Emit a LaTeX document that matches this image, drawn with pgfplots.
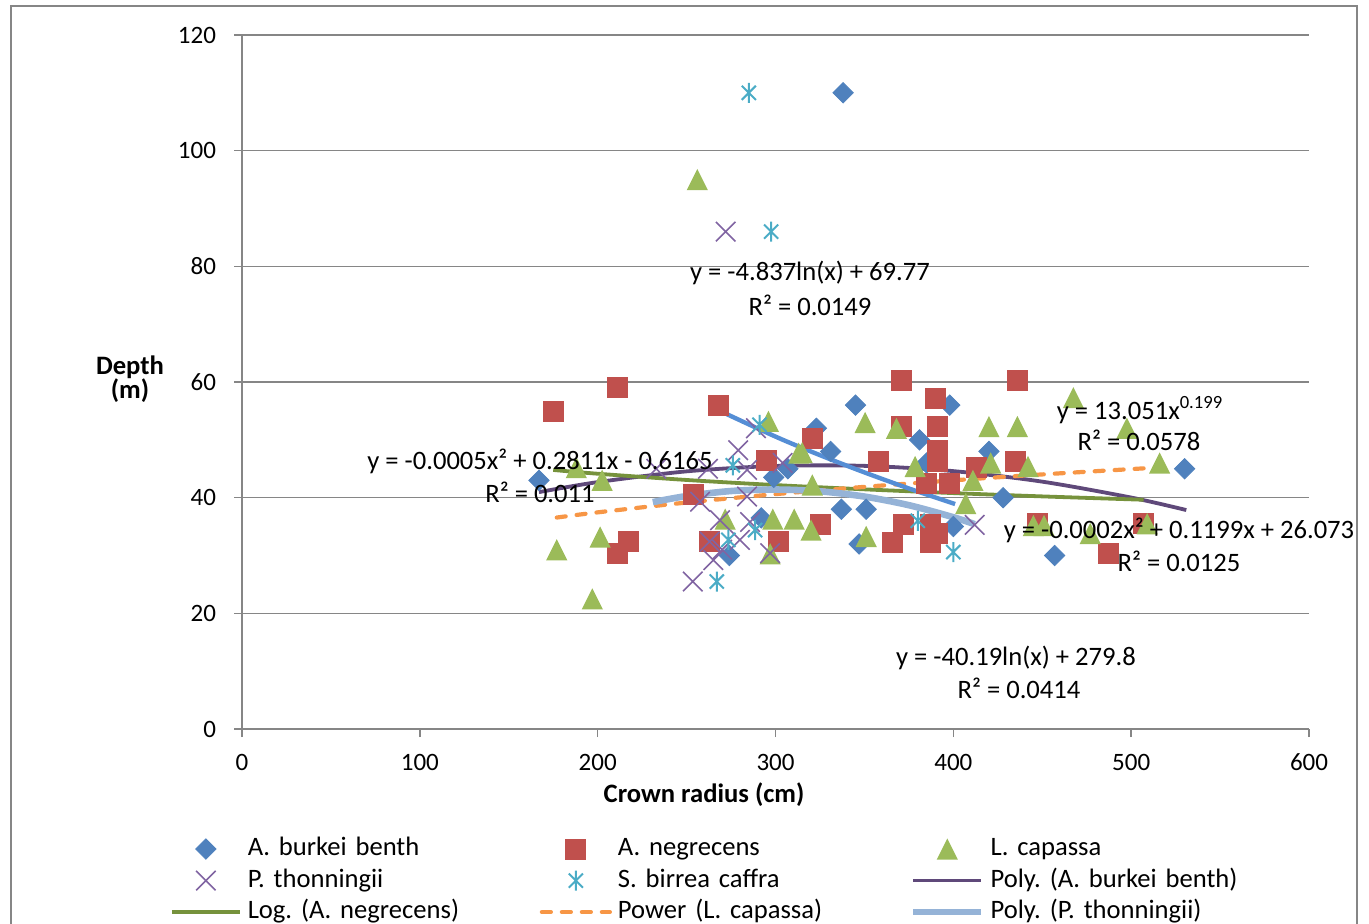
\documentclass[border=0pt]{standalone}
\usepackage{pgfplots}
\pgfplotsset{compat=1.18}
\usepackage{fontspec}
\setmainfont{Carlito}
\definecolor{cBlue}{HTML}{4F81BD}
\definecolor{cRed}{HTML}{C0504D}
\definecolor{cGreen}{HTML}{9BBB59}
\definecolor{cPurple}{HTML}{8064A2}
\definecolor{cCyan}{HTML}{4BACC6}
\definecolor{cOrange}{HTML}{F79646}
\definecolor{tPurple}{HTML}{5F497A}
\definecolor{tGreen}{HTML}{76923C}
\definecolor{tLBlue}{HTML}{95B3D7}
\definecolor{tBlue}{HTML}{558ED5}
\definecolor{cGrid}{HTML}{868686}
\pgfdeclareplotmark{xstar}{%
  \pgfpathmoveto{\pgfqpoint{0pt}{\pgfplotmarksize}}%
  \pgfpathlineto{\pgfqpoint{0pt}{-\pgfplotmarksize}}%
  \pgfpathmoveto{\pgfqpoint{-.7071\pgfplotmarksize}{-.7071\pgfplotmarksize}}%
  \pgfpathlineto{\pgfqpoint{.7071\pgfplotmarksize}{.7071\pgfplotmarksize}}%
  \pgfpathmoveto{\pgfqpoint{-.7071\pgfplotmarksize}{.7071\pgfplotmarksize}}%
  \pgfpathlineto{\pgfqpoint{.7071\pgfplotmarksize}{-.7071\pgfplotmarksize}}%
  \pgfusepathqstroke}
\pgfdeclareplotmark{xtri}{%
  \pgfpathmoveto{\pgfqpoint{0pt}{\pgfplotmarksize}}%
  \pgfpathlineto{\pgfqpoint{-\pgfplotmarksize}{-\pgfplotmarksize}}%
  \pgfpathlineto{\pgfqpoint{\pgfplotmarksize}{-\pgfplotmarksize}}%
  \pgfpathclose\pgfusepathqfill}
\newcommand{\lf}{\fontsize{13.3}{16}\selectfont}
\frenchspacing
\begin{document}
\frenchspacing
\begin{tikzpicture}
\path[use as bounding box, clip] (0pt,0pt) rectangle (684.5pt,-462pt);
\draw[cGrid, line width=0.75pt] (5.5pt,-3pt) rectangle (678.5pt,-475pt);
\begin{axis}[
  at={(121pt,-364.5pt)}, anchor=south west,
  scale only axis, width=533.5pt, height=347pt,
  xmin=0, xmax=600, ymin=0, ymax=120,
  xtick={0,100,...,600}, ytick={0,20,...,120},
  axis lines=left, axis line style={-, draw=cGrid, line width=0.75pt},
  ymajorgrids, grid style={draw=cGrid, line width=0.75pt},
  tick align=outside, major tick length=4pt,
  tick style={draw=cGrid, line width=0.75pt},
  /pgf/number format/assume math mode=true,
  tick label style={font=\fontsize{12.5}{15}\selectfont},
  xticklabel style={yshift=-5pt},
  yticklabel style={xshift=-5.5pt},
  legend image code/.code={\draw[mark repeat=2,mark phase=2,#1] plot coordinates {(0pt,0pt) (17pt,0pt) (34pt,0pt)};},
  legend style={at={(-0.0675,-0.155)}, anchor=north west, draw=none, fill=none,
    inner sep=0pt, outer sep=0pt, legend columns=3, row sep=3.25pt,
    font=\lf,
    nodes={inner xsep=0pt, inner ysep=0pt, text width=146pt, text height=9.5pt, text depth=3pt, align=left},
    /tikz/every odd column/.append style={column sep=3pt}},
  legend cell align=left,
]
% A. burkei benth
\addplot[only marks, mark=square*, mark size=3.6pt, mark options={rotate=45, fill=cBlue, draw=cBlue}] coordinates {
(167,43) (338,110) (345,56) (323,52) (331,48) (398,56) (381,50) (420,48) (337,38) (351,38)
(347,32) (400,35) (385,46) (307,45) (530,45) (457,30) (428,40) (274,30) (292,36.5) (299,43.5)};
\addlegendentry{A. burkei benth}
% A. negrecens
\addplot[only marks, mark=square*, mark size=5pt, mark options={fill=cRed, draw=cRed}] coordinates {
(175,55) (211,59) (268,56) (295,46.5) (254,40.5) (217,32.4) (211,30.4) (263,32.4) (301.5,32.4)
(371,60.2) (390,57.2) (321,50.2) (358,46.2) (371,52.3) (391,52.3) (391,48.2) (391,46.2) (385,42.5)
(398,42.5) (413,45.3) (325,35.3) (372,35.3) (387,35.3) (366,32.3) (387,32.3) (391,33.8) (436,60.2)
(435,46.3) (447,35.5) (507,35.5) (487,30.4)};
\addlegendentry{A. negrecens}
% L. capassa
\addplot[only marks, mark=xtri, mark size=5.3pt, mark options={fill=cGreen, draw=cGreen}] coordinates {
(256,95) (177,31) (197,22.5) (188,45.2) (202.5,43) (201.4,33.2) (296,53.2) (313,47.7) (271.7,36.3)
(298.5,36.3) (310.5,36.3) (297,30.3) (350.4,53) (368,52) (315,47.8) (320.7,42.2) (378.5,45.4)
(407,39) (411,43) (421,46) (420,52.3) (436,52.3) (442,45.4) (320,34.4) (351,33.3) (467.5,57.3)
(497.6,52) (516,46) (477,33.8) (509,35.5) (445,35.2) (451,35.2)};
\addlegendentry{L. capassa}
% P. thonningii
\addplot[only marks, mark=x, mark size=6.9pt, mark options={draw=cPurple, line width=0.8pt}] coordinates {
(272,86) (253.5,25.5) (279,48.2) (289,52) (233,45) (262,45) (284,44.8) (284,40.2) (257.6,39.3)
(268.8,36.1) (285.7,35.8) (280,32.7) (263,32.4) (265,29.2) (297,30.4) (304,46) (412,35.3) (270,31)};
\addlegendentry{P. thonningii}
% S. birrea caffra
\addplot[only marks, mark=xstar, mark size=5pt, mark options={draw=cCyan, line width=1pt}] coordinates {
(285,110) (297.5,86) (267,25.5) (400,30.6) (380,36) (291,52.6) (276,45.6) (273.5,32.7) (288.5,34.4)};
\addlegendentry{S. birrea caffra}
% Poly (A. burkei benth)
\addplot[tPurple, line width=1.9pt, smooth, no marks] coordinates {
(167,40.96) (200,42.69) (250,44.55) (300,45.48) (350,45.50) (400,44.59) (450,42.77) (500,40.02) (531,37.86)};
\addlegendentry{Poly. (A. burkei benth)}
% Log (A. negrecens)
\addplot[tGreen, line width=1.9pt, smooth, no marks] coordinates {
(175,44.79) (200,44.14) (250,43.06) (300,42.18) (350,41.44) (400,40.79) (450,40.22) (507,39.64)};
\addlegendentry{Log. (A. negrecens)}
% Power (L. capassa)
\addplot[cOrange, line width=2.1pt, dash pattern=on 4.5pt off 5.5pt, line cap=round, smooth, no marks] coordinates {
(177,36.56) (200,37.46) (250,39.16) (300,40.61) (350,41.87) (400,43.00) (450,44.02) (516,45.23)};
\addlegendentry{Power (L. capassa)}
% Poly (P. thonningii)
\addplot[tLBlue, line width=3.3pt, smooth, no marks] coordinates {
(231,39.23) (250,40.28) (275,41.15) (300,41.41) (325,41.10) (350,40.19) (375,38.70) (400,36.62) (412,35.42)};
\addlegendentry{Poly. (P. thonningii)}
% Log (S. birrea caffra)
\addplot[tBlue, line width=2.2pt, smooth, no marks, forget plot] coordinates {
(267,55.25) (300,50.56) (325,47.35) (350,44.37) (375,41.59) (401,38.90)};
\end{axis}
% axis titles
\node[font=\lf\bfseries] at (65pt,-183.5pt) {Depth};
\node[font=\lf\bfseries] at (65pt,-195.5pt) {(m)};
\node[font=\lf\bfseries] at (352pt,-397.5pt) {Crown radius (cm)};
% trendline equations
\node[font=\lf] at (405pt,-136.5pt) {y = -4.837ln(x) + 69.77};
\node[font=\lf] at (405pt,-152.5pt) {R² = 0.0149};
\node[font=\lf] at (570pt,-205pt) {y = 13.051x\textsuperscript{0.199}};
\node[font=\lf] at (569.5pt,-220pt) {R² = 0.0578};
\node[font=\lf] at (270pt,-230.5pt) {y = -0.0005x² + 0.2811x - 0.6165};
\node[font=\lf] at (270pt,-246pt) {R² = 0.011};
\node[font=\lf] at (589.5pt,-265pt) {y = -0.0002x² + 0.1199x + 26.073};
\node[font=\lf] at (589.5pt,-280.5pt) {R² = 0.0125};
\node[font=\lf] at (508pt,-329pt) {y = -40.19ln(x) + 279.8};
\node[font=\lf] at (509.5pt,-344pt) {R² = 0.0414};
\end{tikzpicture}
\end{document}
